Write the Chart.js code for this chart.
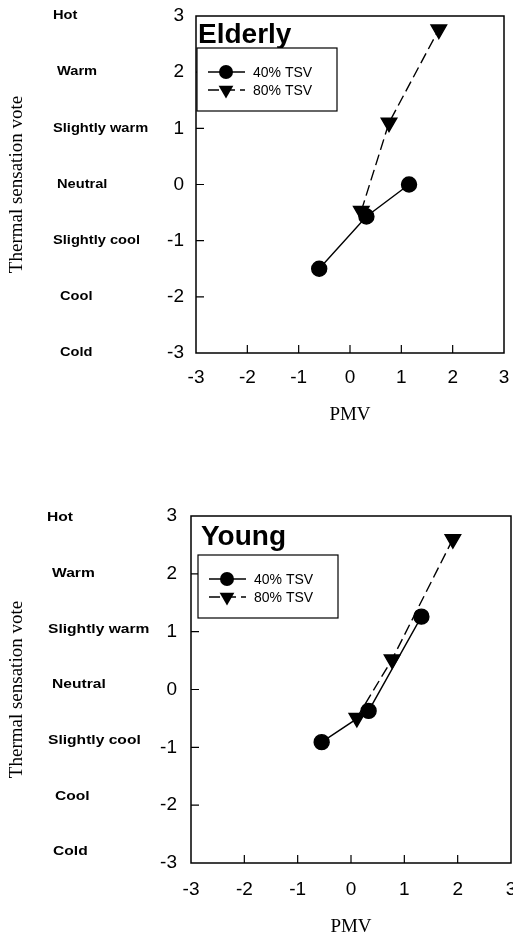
<!DOCTYPE html>
<html>
<head>
<meta charset="utf-8">
<script src="https://cdn.jsdelivr.net/npm/chart.js@4.4.0/dist/chart.umd.min.js"></script>
<style>
    body { margin: 0; background: #fff; }
    canvas { position: absolute; left: 0; }
</style>
</head>
<body>
<canvas id="elderly" width="513" height="470" style="top:0px"></canvas>
<canvas id="young" width="513" height="470" style="top:470px"></canvas>
<script>
// axis ticks and verbal scale
const pmvTicks = [-3, -2, -1, 0, 1, 2, 3];
const tsvTicks = [-3, -2, -1, 0, 1, 2, 3];
const sensationValues = [3, 2, 1, 0, -1, -2, -3];
const sensationNames = ['Hot', 'Warm', 'Slightly warm', 'Neutral', 'Slightly cool', 'Cool', 'Cold'];
const seriesNames = ['40% TSV', '80% TSV'];

// Elderly
const elderlyPmv40 = [-0.6, 0.32, 1.15];
const elderlyTsv40 = [-1.5, -0.57, 0.0];
const elderlyPmv80 = [0.22, 0.76, 1.73];
const elderlyTsv80 = [-0.47, 1.1, 2.76];

// Young
const youngPmv40 = [-0.55, 0.33, 1.32];
const youngTsv40 = [-0.91, -0.37, 1.26];
const youngPmv80 = [0.11, 0.77, 1.91];
const youngTsv80 = [-0.49, 0.52, 2.6];

const SANS = '"Liberation Sans", Arial, sans-serif';
const SERIF = '"Liberation Serif", "Times New Roman", serif';

function toPoints(xs, ys) {
    return xs.map((x, i) => ({ x: x, y: ys[i] }));
}

function marker(ctx, style, x, y, r) {
    ctx.beginPath();
    if (style === 'circle') {
        ctx.arc(x, y, r, 0, Math.PI * 2);
    } else {
        // triangle pointing down
        ctx.moveTo(x, y + r);
        ctx.lineTo(x - r * 0.866, y - r * 0.5);
        ctx.lineTo(x + r * 0.866, y - r * 0.5);
        ctx.closePath();
    }
    ctx.fill();
}

// no label overhang padding, layout.padding alone places the plot box
function noPad(s) {
    s.paddingTop = 0;
    s.paddingBottom = 0;
    s.paddingLeft = 0;
    s.paddingRight = 0;
}

const framePlugin = {
    id: 'frame',
    afterDraw(chart, args, opts) {
        const ctx = chart.ctx;
        const a = chart.chartArea;
        const xs = chart.scales.x, ys = chart.scales.y;
        ctx.save();
        ctx.strokeStyle = '#000';
        ctx.fillStyle = '#000';

        // plot box
        ctx.lineWidth = 1.5;
        ctx.strokeRect(a.left, a.top, a.right - a.left, a.bottom - a.top);

        // inward tick marks
        ctx.lineWidth = 1.2;
        ctx.beginPath();
        xs.ticks.slice(1, -1).forEach(t => {
            const px = xs.getPixelForValue(t.value);
            ctx.moveTo(px, a.bottom);
            ctx.lineTo(px, a.bottom - 8);
        });
        ys.ticks.slice(1, -1).forEach(t => {
            const py = ys.getPixelForValue(t.value);
            ctx.moveTo(a.left, py);
            ctx.lineTo(a.left + 8, py);
        });
        ctx.stroke();

        // verbal sensation labels
        ctx.font = 'bold 12px ' + SANS;
        ctx.textBaseline = 'middle';
        ctx.textAlign = 'left';
        const top = ys.getPixelForValue(sensationValues[0]);
        sensationNames.forEach((name, i) => {
            const py = top + (ys.getPixelForValue(sensationValues[i]) - top) * opts.squeeze + opts.shift;
            ctx.save();
            ctx.translate(opts.indent[i], py);
            ctx.scale(opts.stretch, 1);
            ctx.fillText(name, 0, 0);
            ctx.restore();
        });

        // group title
        ctx.font = 'bold 28px ' + SANS;
        ctx.textBaseline = 'alphabetic';
        ctx.fillText(opts.title, a.left + opts.titleDx, a.top + opts.titleDy);

        // legend box
        const lx = a.left + opts.legendDx, ly = a.top + opts.legendDy;
        ctx.fillStyle = '#fff';
        ctx.fillRect(lx, ly, 140, 63);
        ctx.lineWidth = 1.2;
        ctx.strokeRect(lx, ly, 140, 63);
        ctx.fillStyle = '#000';
        ctx.font = '14px ' + SANS;
        ctx.textBaseline = 'middle';
        ctx.lineWidth = 1.4;
        chart.data.datasets.forEach((ds, i) => {
            const ry = ly + 24 + i * 18;
            ctx.setLineDash(ds.borderDash || []);
            ctx.beginPath();
            ctx.moveTo(lx + 11, ry);
            ctx.lineTo(lx + 48, ry);
            ctx.stroke();
            ctx.setLineDash([]);
            marker(ctx, ds.legendMarker, lx + 29, ry, ds.legendMarker === 'circle' ? 7 : 8.5);
            ctx.fillText(ds.label, lx + 56, ry + 1);
        });
        ctx.restore();
    }
};

function makeChart(id, pmv40, tsv40, pmv80, tsv80, look) {
    new Chart(document.getElementById(id), {
        type: 'scatter',
        data: {
            datasets: [{
                label: seriesNames[0],
                data: toPoints(pmv40, tsv40),
                showLine: true,
                borderColor: '#000',
                backgroundColor: '#000',
                borderWidth: 1.4,
                pointStyle: 'circle',
                pointRadius: 7.5,
                legendMarker: 'circle'
            },
            {
                label: seriesNames[1],
                data: toPoints(pmv80, tsv80),
                showLine: true,
                borderColor: '#000',
                backgroundColor: '#000',
                borderWidth: 1.4,
                borderDash: [11, 5],
                pointStyle: 'triangle',
                pointRotation: 180,
                pointRadius: 9,
                legendMarker: 'triangle'
            }]
        },
        options: {
            responsive: false,
            animation: false,
            events: [],
            layout: {
                autoPadding: false,
                padding: look.padding
            },
            scales: {
                x: {
                    type: 'linear',
                    min: pmvTicks[0],
                    max: pmvTicks[pmvTicks.length - 1],
                    afterBuildTicks: s => { s.ticks = pmvTicks.map(v => ({ value: v })); },
                    afterFit: s => { s.height = look.xHeight; noPad(s); },
                    grid: { display: false, drawTicks: false },
                    border: { display: false },
                    ticks: {
                        color: '#000',
                        padding: look.xPad,
                        font: { family: SANS, size: 19 }
                    },
                    title: {
                        display: true,
                        text: 'PMV',
                        color: '#000',
                        padding: { top: 0, bottom: 0 },
                        font: { family: SERIF, size: 19 }
                    }
                },
                y: {
                    type: 'linear',
                    min: tsvTicks[0],
                    max: tsvTicks[tsvTicks.length - 1],
                    afterBuildTicks: s => { s.ticks = tsvTicks.map(v => ({ value: v })); },
                    afterFit: s => { s.width = look.yWidth; noPad(s); },
                    grid: { display: false, drawTicks: false },
                    border: { display: false },
                    ticks: {
                        color: '#000',
                        padding: look.yPad,
                        font: { family: SANS, size: 19 }
                    },
                    title: {
                        display: true,
                        text: 'Thermal sensation vote',
                        color: '#000',
                        padding: { top: 6, bottom: 0 },
                        font: { family: SERIF, size: 19 }
                    }
                }
            },
            plugins: {
                legend: { display: false },
                tooltip: { enabled: false },
                frame: look.frame
            }
        },
        plugins: [framePlugin]
    });
}

makeChart('elderly', elderlyPmv40, elderlyTsv40, elderlyPmv80, elderlyTsv80, {
    padding: { top: 16, right: 9, bottom: 43.6, left: 0 },
    xHeight: 73.4,
    yWidth: 196,
    xPad: 13,
    yPad: 12,
    frame: {
        title: 'Elderly', titleDx: 2, titleDy: 27,
        legendDx: 1, legendDy: 32,
        indent: [53, 57, 53, 57, 53, 60, 60],
        stretch: 1.22, squeeze: 1, shift: 0
    }
});

makeChart('young', youngPmv40, youngTsv40, youngPmv80, youngTsv80, {
    padding: { top: 46, right: 2, bottom: 1.1, left: 0 },
    xHeight: 75.9,
    yWidth: 191,
    xPad: 15,
    yPad: 14,
    frame: {
        title: 'Young', titleDx: 10, titleDy: 29,
        legendDx: 7, legendDy: 39,
        indent: [47, 52, 48, 52, 48, 55, 53],
        stretch: 1.3, squeeze: 0.963, shift: 2
    }
});
</script>
</body>
</html>
